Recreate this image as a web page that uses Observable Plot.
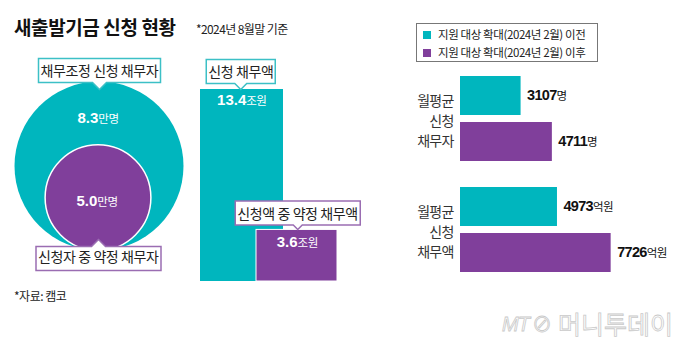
<!DOCTYPE html>
<html><head><meta charset="utf-8">
<script src="https://cdn.jsdelivr.net/npm/d3@7"></script>
<script src="https://cdn.jsdelivr.net/npm/@observablehq/plot@0.6"></script>
<style>
body{margin:0;background:#fff;}
#root{position:relative;width:680px;height:353px;overflow:hidden;font-family:"Noto Sans CJK KR","Noto Sans",sans-serif;color:#222;}
.abs{position:absolute;line-height:1;white-space:nowrap;}
</style></head><body><div id="root"></div>
<script>
// ---- data ----
const title = "새출발기금 신청 현황";
const subtitle = "*2024년 8월말 기준";
const source = "*자료: 캠코";
const personLabels = ["채무조정 신청 채무자", "신청자 중 약정 채무자"];
const personValues = [8.3, 5.0];
const personUnit = "만명";
const amountLabels = ["신청 채무액", "신청액 중 약정 채무액"];
const amountValues = [13.4, 3.6];
const amountUnit = "조원";
const periods = ["지원 대상 확대(2024년 2월) 이전", "지원 대상 확대(2024년 2월) 이후"];
const groupLabels = ["월평균\n신청\n채무자", "월평균\n신청\n채무액"];
const groupUnits = ["명", "억원"];
const monthlyDebtors = [3107, 4711];
const monthlyAmounts = [4973, 7726];
const colors = ["#00b6be", "#803f9b"];
const borderColors = ["#3cc0c6", "#9a6db2"];

const KR = "'Noto Sans CJK KR','Noto Sans',sans-serif";
const root = document.getElementById("root");

function addDiv(html, css) {
  const d = document.createElement("div");
  d.className = "abs";
  d.innerHTML = html;
  Object.assign(d.style, css);
  root.appendChild(d);
  return d;
}
function place(svg, left, width) {
  const d = addDiv("", {left: left + "px", top: "0px", width: width + "px", height: "300px"});
  d.appendChild(svg);
}
const unitRe = /^([\d.,]+)(만명|조원|억원|명)$/;
function splitUnits(svg, numFont, numSize, unitSize, numSpacing) {
  d3.select(svg).selectAll("text").each(function () {
    if (this.querySelector("tspan")) return;
    const s = this.textContent;
    const m = s.match(unitRe);
    if (!m) return;
    const t = d3.select(this);
    t.text(null);
    t.append("tspan").style("font-family", numFont).style("font-weight", "bold").style("font-size", numSize + "px").style("letter-spacing", numSpacing + "px").text(m[1]);
    t.append("tspan").style("font-family", KR).style("font-weight", "normal").style("font-size", unitSize + "px").style("letter-spacing", "-0.5px").text(m[2]);
  });
}

// ---- header ----
addDiv(title, {left: "14px", top: "17px", fontSize: "19px", fontWeight: "bold", letterSpacing: "-0.4px", color: "#111"});
addDiv(subtitle, {left: "196px", top: "23px", fontSize: "12px", letterSpacing: "-0.6px", color: "#222"});

// ---- panel A: circles ----
const persons = personLabels.map((label, i) => ({label, value: personValues[i], unit: personUnit}));
const pMax = d3.max(personValues);
const A = Plot.plot({
  width: 195, height: 300, margin: 0,
  style: {background: "transparent", color: "#222", fontFamily: KR, letterSpacing: "-0.4px"},
  y: {type: "linear", domain: [0, pMax], range: [245, 165.5], axis: null},
  r: {type: "linear", domain: [0, pMax], range: [5, 84.5]},
  color: {domain: personLabels, range: colors},
  marks: [
    Plot.dot(persons, {filter: (d, i) => i === 0, y: "value", r: "value", fill: "label", dx: 1}),
    Plot.dot(persons, {filter: (d, i) => i === 1, y: "value", r: "value", fill: "label", stroke: "white", strokeWidth: 1.5, dx: 0}),
    Plot.text(persons, {filter: (d, i) => i === 0, y: "value", text: d => d.value.toFixed(1) + d.unit, fill: "white", dy: -46.5, dx: 0}),
    Plot.text(persons, {filter: (d, i) => i === 1, y: "value", text: d => d.value.toFixed(1) + d.unit, fill: "white", dy: 5, dx: -1}),
    Plot.tip(persons, {filter: (d, i) => i === 0, y: "value", title: "label", anchor: "bottom", dy: -77, dx: 1,
      pointerSize: 14, textPadding: 2, fontSize: 14, fill: "white", stroke: borderColors[0], strokeWidth: 1.5, pathFilter: "none"}),
    Plot.tip(persons, {filter: (d, i) => i === 1, y: "value", title: "label", anchor: "top", dy: 42, dx: 0,
      pointerSize: 14, textPadding: 2, fontSize: 14, fill: "white", stroke: borderColors[1], strokeWidth: 1.5, pathFilter: "none"})
  ]
});
splitUnits(A, "'Liberation Sans',Arial,sans-serif", 15, 11.5, 0);
place(A, 0, 195);

// ---- panel B: bars ----
const amounts = amountLabels.map((label, i) => ({label, value: amountValues[i], unit: amountUnit}));
const B = Plot.plot({
  width: 185, height: 300, margin: 0,
  style: {background: "transparent", color: "#222", fontFamily: KR, letterSpacing: "-0.4px"},
  x: {type: "band", domain: amountLabels, range: [5, 142], padding: 0, round: false, axis: null},
  y: {domain: [0, d3.max(amountValues)], range: [281, 89], axis: null},
  color: {domain: amountLabels, range: colors},
  marks: [
    Plot.barY(amounts, {filter: (d, i) => i === 0, x: "label", y: "value", fill: "label", insetRight: -14.5}),
    Plot.barY(amounts, {filter: (d, i) => i === 1, x: "label", y: "value", fill: "label", insetLeft: -12.5, stroke: "white", strokeWidth: 1}),
    Plot.text(amounts, {filter: (d, i) => i === 0, x: "label", y: "value", text: d => d.value.toFixed(1) + d.unit, fill: "white", dy: 12, dx: 7}),
    Plot.text(amounts, {filter: (d, i) => i === 1, x: "label", y: "value", text: d => d.value.toFixed(1) + d.unit, fill: "white", dy: 14, dx: -6}),
    Plot.tip(amounts, {filter: (d, i) => i === 0, x: "label", y: "value", title: "label", anchor: "bottom", dx: 6,
      pointerSize: 12, textPadding: 2, fontSize: 14, fill: "white", stroke: borderColors[0], strokeWidth: 1.5, pathFilter: "none"}),
    Plot.tip(amounts, {filter: (d, i) => i === 1, x: "label", y: "value", title: "label", anchor: "bottom", dx: -6,
      pointerSize: 9, textPadding: 2, fontSize: 14, fill: "white", stroke: borderColors[1], strokeWidth: 1.5, pathFilter: "none"})
  ]
});
splitUnits(B, "'Liberation Sans',Arial,sans-serif", 15, 11.5, 0);
place(B, 195, 185);

// ---- panel C: monthly bars ----
const rows = [];
groupLabels.forEach((g, gi) => {
  const vals = gi === 0 ? monthlyDebtors : monthlyAmounts;
  periods.forEach((p, pi) => rows.push({group: g, period: p, value: vals[pi], unit: groupUnits[gi]}));
});
const groupRows = groupLabels.map(g => ({group: g}));
const C = Plot.plot({
  width: 300, height: 300, marginTop: 75, marginBottom: 26, marginLeft: 80, marginRight: 25,
  style: {background: "transparent", color: "#222", fontFamily: KR, letterSpacing: "-0.8px"},
  x: {domain: [0, 10000], axis: null},
  fy: {domain: groupLabels, paddingInner: 0.223, paddingOuter: 0, axis: null},
  y: {domain: periods, paddingInner: 0.149, paddingOuter: 0, axis: null},
  color: {domain: periods, range: colors},
  marks: [
    Plot.barX(rows, {fy: "group", y: "period", x: "value", fill: "period"}),
    Plot.text(rows, {fy: "group", y: "period", x: "value", text: d => d.value + d.unit, textAnchor: "start", dx: 6, dy: 1, fill: "#111"}),
    Plot.text(groupRows, {fy: "group", text: "group", frameAnchor: "left", textAnchor: "end", dx: -7, lineHeight: 1.45, fontSize: 14, fill: "#333"})
  ]
});
splitUnits(C, "'Liberation Sans Narrow','Arial Narrow','Liberation Sans',sans-serif", 14.5, 11.5, -0.7);
place(C, 380, 300);

// ---- legend ----
const leg = addDiv("", {left: "416px", top: "23px", width: "180px", height: "37px", border: "1px solid #777", background: "#fff"});
periods.forEach((p, i) => {
  const row = document.createElement("div");
  Object.assign(row.style, {position: "absolute", left: "6px", top: (5 + i * 18) + "px", display: "flex", alignItems: "center", fontSize: "11.5px", letterSpacing: "-0.4px", color: "#222", lineHeight: "1"});
  row.innerHTML = `<span style="display:inline-block;width:8px;height:8px;background:${colors[i]};margin-right:7px"></span><span>${p}</span>`;
  leg.appendChild(row);
});

// ---- footer ----
addDiv(source, {left: "14px", top: "290px", fontSize: "12px", letterSpacing: "-0.5px", color: "#222"});
addDiv('<span style="font-family:\'Liberation Sans\',sans-serif;font-style:italic;font-size:20px;letter-spacing:-1px">MT</span><span style="font-size:20px;margin:0 6px 0 3px">⊘</span><span>머니투데이</span>',
  {left: "502px", top: "311px", fontSize: "25px", color: "#fff", webkitTextStroke: "0.8px #c9c9c9", letterSpacing: "0px", display: "flex", alignItems: "center"});
</script>
</body></html>
